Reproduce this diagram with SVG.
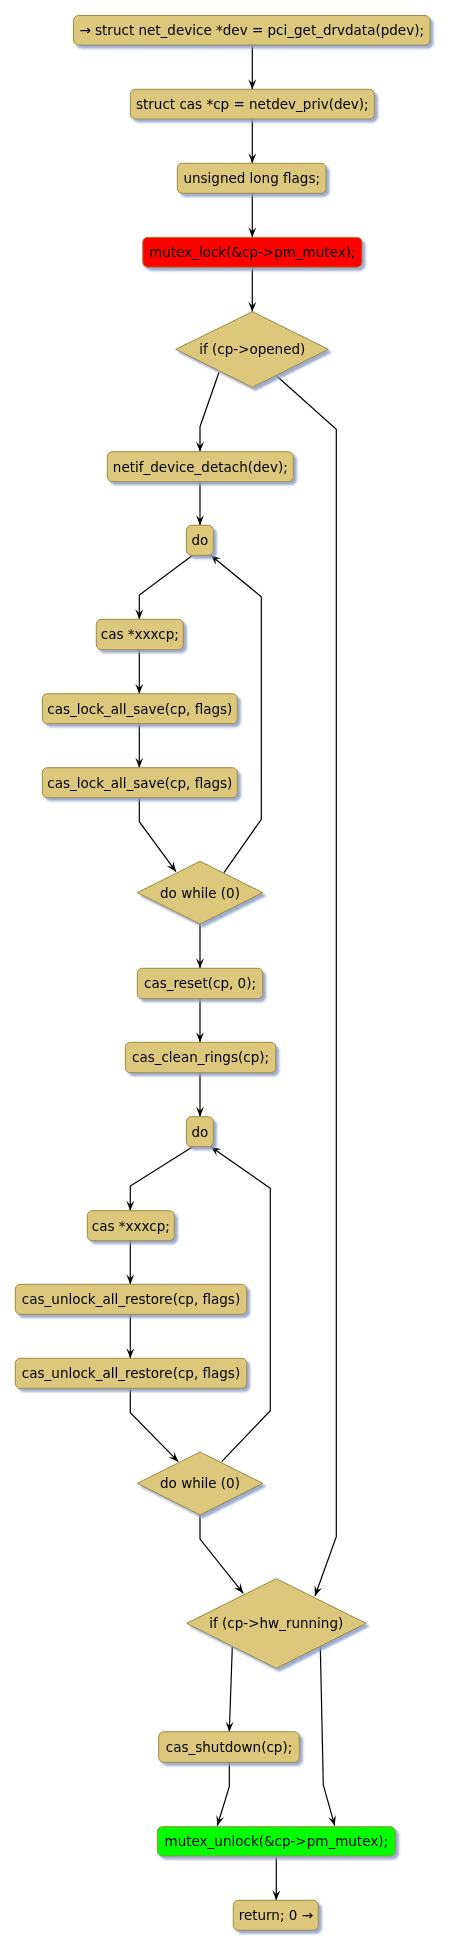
<svg xmlns="http://www.w3.org/2000/svg" width="449" height="1949" viewBox="0 0 449 1949">
<style>
.n{fill:#DBC87D;stroke:#A08A3E;stroke-width:1}
.r{fill:#FF0000;stroke:#A08A3E;stroke-width:1}
.g{fill:#00FF00;stroke:#A08A3E;stroke-width:1}
.t{font-family:"DejaVu Sans",Verdana,sans-serif;font-size:13.5px;fill:#000;text-anchor:middle}
.c{fill:none;stroke:#000;stroke-width:1.2}
</style>
<defs>
<filter id="sh" x="-10%" y="-10%" width="130%" height="140%">
<feGaussianBlur in="SourceAlpha" stdDeviation="1.2" result="b"/>
<feOffset in="b" dx="3" dy="3" result="o"/>
<feFlood flood-color="#8C9DC2" flood-opacity="0.85"/>
<feComposite in2="o" operator="in" result="s"/>
<feMerge><feMergeNode in="s"/><feMergeNode in="SourceGraphic"/></feMerge>
</filter>
<marker id="a" viewBox="-11 -5 12 10" markerWidth="12" markerHeight="10" refX="0" refY="0" orient="auto" markerUnits="userSpaceOnUse">
<path d="M0,0 L-10,-4 L-6,0 L-10,4 Z" fill="#000"/>
</marker>
</defs>
<g id="connectors">
<path class="c" marker-end="url(#a)" d="M252.3,45 L252.3,89.3"/>
<path class="c" marker-end="url(#a)" d="M252.3,119 L252.3,163.3"/>
<path class="c" marker-end="url(#a)" d="M252.3,193.3 L252.3,237.3"/>
<path class="c" marker-end="url(#a)" d="M252.3,267.3 L252.3,311.7"/>
<path class="c" marker-end="url(#a)" d="M219,372.3 L200,426.7 L200,451.7"/>
<path class="c" marker-end="url(#a)" d="M276.7,376 L336.3,429.3 L336.3,1536.7 L315,1596"/>
<path class="c" marker-end="url(#a)" d="M200,481.7 L200,525.3"/>
<path class="c" marker-end="url(#a)" d="M192.7,555.3 L139.3,595 L139.3,619.3"/>
<path class="c" marker-end="url(#a)" d="M139.3,649.7 L139.3,693.7"/>
<path class="c" marker-end="url(#a)" d="M139.3,723.7 L139.3,767.7"/>
<path class="c" marker-end="url(#a)" d="M139.3,797.7 L139.3,821.7 L176,871.7"/>
<path class="c" marker-end="url(#a)" d="M224,872.7 L261.3,819.3 L261.3,596.7 L210.7,555.3"/>
<path class="c" marker-end="url(#a)" d="M200,924 L200,968.3"/>
<path class="c" marker-end="url(#a)" d="M200,998.7 L200,1042.3"/>
<path class="c" marker-end="url(#a)" d="M200,1072.7 L200,1116.7"/>
<path class="c" marker-end="url(#a)" d="M192.7,1146.7 L130.3,1186 L130.3,1210.7"/>
<path class="c" marker-end="url(#a)" d="M130.3,1240.7 L130.3,1284.3"/>
<path class="c" marker-end="url(#a)" d="M130.3,1314.3 L130.3,1358.3"/>
<path class="c" marker-end="url(#a)" d="M130.3,1388.3 L130.3,1412.7 L178.3,1461.7"/>
<path class="c" marker-end="url(#a)" d="M221.7,1461.7 L270.3,1410.7 L270.3,1188.3 L210.7,1146.7"/>
<path class="c" marker-end="url(#a)" d="M200,1515 L200,1539 L243.3,1593.3"/>
<path class="c" marker-end="url(#a)" d="M232.3,1646.7 L229.3,1731.7"/>
<path class="c" marker-end="url(#a)" d="M320.3,1646 L323.3,1785 L334.7,1825.7"/>
<path class="c" marker-end="url(#a)" d="M229.3,1762.3 L229.3,1786.7 L217.3,1825.7"/>
<path class="c" marker-end="url(#a)" d="M276.3,1856 L276.3,1900.3"/>
</g>
<g id="n1" filter="url(#sh)"><rect class="n" x="73.5" y="15.5" width="356.5" height="29.5" rx="5"/><text class="t" x="251.7" y="35.2">→ struct net_device *dev = pci_get_drvdata(pdev);</text></g>
<g id="n2" filter="url(#sh)"><rect class="n" x="130.3" y="89.3" width="244" height="29.7" rx="5"/><text class="t" x="252.3" y="109">struct cas *cp = netdev_priv(dev);</text></g>
<g id="n3" filter="url(#sh)"><rect class="n" x="177.3" y="163.3" width="148.7" height="30" rx="5"/><text class="t" x="251.7" y="183.2">unsigned long flags;</text></g>
<g id="n4" filter="url(#sh)"><rect class="r" x="142.7" y="237.3" width="219.3" height="30" rx="5"/><text class="t" x="252.3" y="257.2">mutex_lock(&amp;cp-&gt;pm_mutex);</text></g>
<g id="d1" filter="url(#sh)"><polygon class="n" points="175.7,349.3 252.3,311.7 328.3,349.3 252.3,387.3"/><text class="t" x="252.3" y="354.2">if (cp-&gt;opened)</text></g>
<g id="n5" filter="url(#sh)"><rect class="n" x="107.3" y="451.7" width="186" height="30" rx="5"/><text class="t" x="200.3" y="471.6">netif_device_detach(dev);</text></g>
<g id="do1" filter="url(#sh)"><rect class="n" x="186.3" y="525.3" width="27" height="30" rx="5"/><text class="t" x="199.8" y="545.2">do</text></g>
<g id="n6" filter="url(#sh)"><rect class="n" x="96.3" y="619.3" width="87" height="30.4" rx="5"/><text class="t" x="139.8" y="639.4">cas *xxxcp;</text></g>
<g id="n7" filter="url(#sh)"><rect class="n" x="42.3" y="693.7" width="195" height="30" rx="5"/><text class="t" x="139.8" y="713.6">cas_lock_all_save(cp, flags)</text></g>
<g id="n8" filter="url(#sh)"><rect class="n" x="42.3" y="767.7" width="195" height="30" rx="5"/><text class="t" x="139.8" y="787.6">cas_lock_all_save(cp, flags)</text></g>
<g id="d2" filter="url(#sh)"><polygon class="n" points="137.3,892.7 200,861.3 262.7,892.7 200,924"/><text class="t" x="200" y="897.6">do while (0)</text></g>
<g id="n9" filter="url(#sh)"><rect class="n" x="137.3" y="968.3" width="125.4" height="30.4" rx="5"/><text class="t" x="200" y="988.4">cas_reset(cp, 0);</text></g>
<g id="n10" filter="url(#sh)"><rect class="n" x="125.3" y="1042.3" width="150.4" height="30.4" rx="5"/><text class="t" x="200.5" y="1062.4">cas_clean_rings(cp);</text></g>
<g id="do2" filter="url(#sh)"><rect class="n" x="186.3" y="1116.7" width="27" height="30" rx="5"/><text class="t" x="199.8" y="1136.6">do</text></g>
<g id="n11" filter="url(#sh)"><rect class="n" x="87.3" y="1210.7" width="87" height="30" rx="5"/><text class="t" x="130.8" y="1230.6">cas *xxxcp;</text></g>
<g id="n12" filter="url(#sh)"><rect class="n" x="15.3" y="1284.3" width="231.4" height="30" rx="5"/><text class="t" x="131" y="1304.2">cas_unlock_all_restore(cp, flags)</text></g>
<g id="n13" filter="url(#sh)"><rect class="n" x="15.3" y="1358.3" width="231.4" height="30" rx="5"/><text class="t" x="131" y="1378.2">cas_unlock_all_restore(cp, flags)</text></g>
<g id="d3" filter="url(#sh)"><polygon class="n" points="137.3,1483.3 200,1452 262.7,1483.3 200,1515"/><text class="t" x="200" y="1488.2">do while (0)</text></g>
<g id="d4" filter="url(#sh)"><polygon class="n" points="186.7,1623.3 276.3,1578.7 366,1623.3 276.3,1668.3"/><text class="t" x="276.3" y="1628.2">if (cp-&gt;hw_running)</text></g>
<g id="n14" filter="url(#sh)"><rect class="n" x="158.7" y="1731.7" width="140.6" height="30.6" rx="5"/><text class="t" x="229" y="1751.9">cas_shutdown(cp);</text></g>
<g id="n15" filter="url(#sh)"><rect class="g" x="157.3" y="1826.7" width="238" height="29.3" rx="5"/><text class="t" x="276.3" y="1846.2">mutex_unlock(&amp;cp-&gt;pm_mutex);</text></g>
<g id="n16" filter="url(#sh)"><rect class="n" x="233.3" y="1900.3" width="85" height="30" rx="5"/><text class="t" x="275.8" y="1920.2">return; 0 →</text></g>
</svg>
